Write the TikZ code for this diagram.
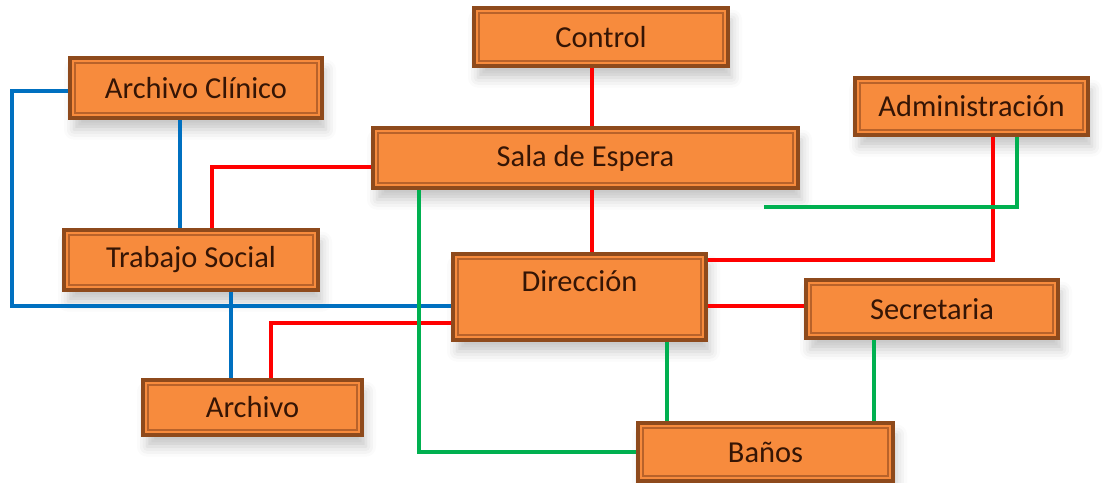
\documentclass[tikz,border=0pt]{standalone}
\usepackage{fontspec}
\setmainfont{Carlito}
\usetikzlibrary{shadows.blur,calc}
\definecolor{boxfill}{HTML}{F78B3D}
\definecolor{boxedge}{HTML}{8E4A1C}
\definecolor{boxinner}{HTML}{B8622A}
\definecolor{boxtxt}{HTML}{351505}
\definecolor{lred}{HTML}{FF0000}
\definecolor{lblue}{HTML}{0070C0}
\definecolor{lgreen}{HTML}{00B050}
\tikzset{
  roombox/.style={rectangle, inner sep=0pt, fill=boxfill, draw=boxedge, line width=2.6pt,
    text=boxtxt, font=\fontsize{26}{30}\selectfont,
    blur shadow={shadow xshift=0.12cm, shadow yshift=-0.35cm, shadow blur radius=0.3cm, shadow opacity=22},
    path picture={\draw[boxinner, line width=1.4pt]
      ($(path picture bounding box.south west)+(5,-5)$) rectangle
      ($(path picture bounding box.north east)+(-5,5)$);}},
  lbl/.style={text=boxtxt, font=\fontsize{26}{30}\selectfont, inner sep=0pt},
  conn/.style={line width=2.6pt, line cap=butt},
  cred/.style={conn, draw=lred},
  cblue/.style={conn, draw=lblue},
  cgreen/.style={conn, draw=lgreen}
}
\begin{document}
\begin{tikzpicture}[x=0.03cm, y=-0.03cm]
\useasboundingbox (0,0) rectangle (1104,483);
% boxes
\node[roombox, minimum width={254*0.03cm}, minimum height={58*0.03cm}] (ctrl) at (601,37) {Control};
\node[roombox, minimum width={252*0.03cm}, minimum height={60*0.03cm}] (ac) at (196,88) {Archivo Clínico};
\node[roombox, minimum width={233*0.03cm}, minimum height={57*0.03cm}] (adm) at (971.5,106.5) {Administración};
\node[roombox, minimum width={425*0.03cm}, minimum height={60*0.03cm}] (sala) at (585.5,158) {Sala de Espera};
\node[roombox, minimum width={254*0.03cm}, minimum height={60*0.03cm}] (ts) at (191,260) {Trabajo Social};
\node[roombox, minimum width={253*0.03cm}, minimum height={86*0.03cm}] (dir) at (579.5,297) {};
\node[lbl] (dirt) at ($(dir.north)+(0,29)$) {Dirección};
\node[roombox, minimum width={252*0.03cm}, minimum height={58*0.03cm}] (sec) at (932,309) {Secretaria};
\node[roombox, minimum width={219*0.03cm}, minimum height={55*0.03cm}] (arch) at (252.5,407.5) {Archivo};
\node[roombox, minimum width={255*0.03cm}, minimum height={58*0.03cm}] (ban) at (765.5,452) {Baños};
\coordinate (gend) at (764,207);
% red connectors
\draw[cred] (ctrl.south -| 592,0) -- (sala.north -| 592,0);
\draw[cred] (sala.south -| 592,0) -- (dir.north -| 592,0);
\draw[cred] (sala.west |- 0,167) -| (ts.north -| 212,0);
\draw[cred] (adm.south -| 993,0) |- (dir.east |- 0,260);
\draw[cred] (dir.east |- 0,306) -- (sec.west |- 0,306);
\draw[cred] (dir.west |- 0,323) -| (arch.north -| 271,0);
% blue connectors
\draw[cblue] (ac.west |- 0,91) -| (12,306) -- (dir.west |- 0,306);
\draw[cblue] (ac.south -| 180,0) -- (ts.north -| 180,0);
\draw[cblue] (ts.south -| 231,0) -- (arch.north -| 231,0);
% green connectors
\draw[cgreen] (sala.south -| 419,0) |- (ban.west |- 0,452);
\draw[cgreen] (adm.south -| 1017,0) |- (gend);
\draw[cgreen] (dir.south -| 667,0) -- (ban.north -| 667,0);
\draw[cgreen] (sec.south -| 874,0) -- (ban.north -| 874,0);
\end{tikzpicture}
\end{document}
